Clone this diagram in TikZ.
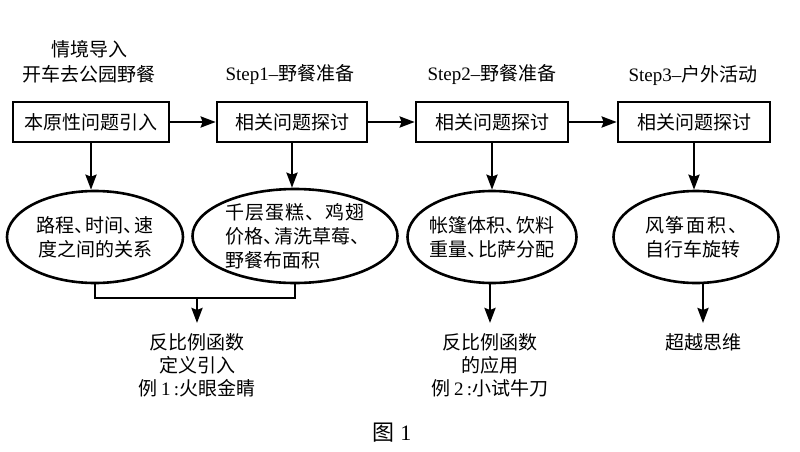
\documentclass[tikz,border=0pt]{standalone}
\usepackage{fontspec}
\setmainfont{Liberation Serif}
\newfontfamily\cjk{Noto Sans CJK SC}
\usetikzlibrary{arrows.meta,shapes.geometric}
\newcommand\dunhao{\makebox[0.6em][l]{、}}
\begin{document}
\begin{tikzpicture}[x=1pt,y=-1pt,
  every node/.style={inner sep=0pt},
  cjkfont/.style={font=\cjk\fontsize{19}{24}\selectfont},
  head/.style={cjkfont, align=center},
  box/.style={draw, line width=2.6pt, minimum height=40pt, cjkfont},
  oval/.style={ellipse, draw, line width=2.6pt, cjkfont, align=center, inner xsep=-4pt, inner ysep=0pt, minimum height=92pt},
  res/.style={font=\cjk\fontsize{19}{23}\selectfont, align=center, anchor=north, inner ysep=10pt},
  con/.style={line width=2.6pt},
  arr/.style={con, -{Stealth[length=15pt,width=11pt,inset=2pt]}}
]
\useasboundingbox (0,0) rectangle (800,452);

% headings
\node[head, font=\cjk\fontsize{19}{25}\selectfont] (h0) at (89,62) {情境导入\\开车去公园野餐};
\node[head] (h1) at (290,75) {{\rmfamily Step1–}野餐准备};
\node[head] (h2) at (492,75) {{\rmfamily Step2–}野餐准备};
\node[head] (h3) at (693,75) {{\rmfamily Step3–}户外活动};

% boxes
\node[box, minimum width=156pt] (b1) at (91,122) {本原性问题引入};
\node[box, minimum width=150pt] (b2) at (292,122) {相关问题探讨};
\node[box, minimum width=152pt] (b3) at (492,122) {相关问题探讨};
\node[box, minimum width=152pt] (b4) at (694,122) {相关问题探讨};

% ellipses
\node[oval, minimum width=176pt] (e1) at (95,237) {路程\dunhao 时间\dunhao 速\\度之间的关系};
\node[oval, minimum width=205pt, minimum height=94pt, align=left] (e2) at (295,236)
  {\hbox to 140pt{千\hfil 层\hfil 蛋\hfil 糕\hfil 、\hfil 鸡\hfil 翅}\\价格\dunhao 清洗草莓\dunhao\\野餐布面积};
\node[oval, minimum width=169pt] (e3) at (492,237) {帐篷体积\dunhao 饮料\\重量\dunhao 比萨分配};
\node[oval, minimum width=165pt, align=left] (e4) at (696,237)
  {\hbox to 102pt{风\hfil 筝\hfil 面\hfil 积\hfil 、}\\自行车旋转};

% results
\node[res] (t1) at (197,323) {反比例函数\\定义引入\\例{\rmfamily\,1\,:}火眼金睛};
\node[res] (t2) at (490,323) {反比例函数\\的应用\\例{\rmfamily\,2\,:}小试牛刀};
\node[res] (t3) at (703,323) {超越思维};

\node[font=\cjk\fontsize{22}{26}\selectfont] (fig) at (392,433) {图{\rmfamily\ 1}};

% horizontal arrows
\draw[arr] (b1.east) -- (b2.west);
\draw[arr] (b2.east) -- (b3.west);
\draw[arr] (b3.east) -- (b4.west);

% box to ellipse
\draw[arr] (b1.south) -- (b1.south |- e1.north);
\draw[arr] (b2.south) -- (b2.south |- e2.north);
\draw[arr] (b3.south) -- (b3.south |- e3.north);
\draw[arr] (b4.south) -- (b4.south |- e4.north);

% join of e1 and e2
\coordinate (j) at (197,298);
\draw[con] (e1.south) -- (e1.south |- j) -- (e2.south |- j) -- (e2.south);
\draw[arr] (j) -- (t1.north);
\draw[arr] (e3.south -| t2.north) -- (t2.north);
\draw[arr] (e4.south -| t3.north) -- (t3.north);
\end{tikzpicture}
\end{document}
